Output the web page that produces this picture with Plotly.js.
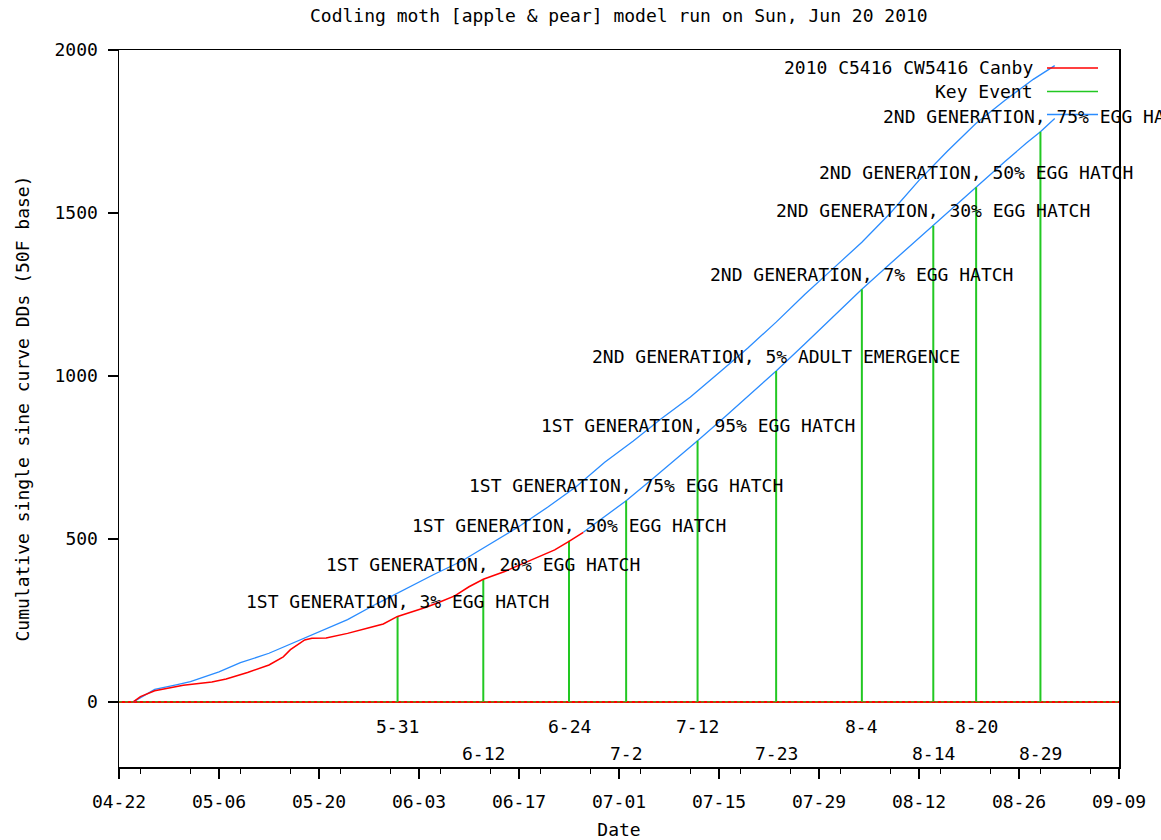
<!DOCTYPE html>
<html>
<head>
<meta charset="utf-8">
<script src="https://cdn.plot.ly/plotly-3.0.1.min.js"></script>
<style>html,body{margin:0;padding:0;background:#fff;}#chart{width:1161px;height:840px;}</style>
</head>
<body>
<div id="chart"></div>
<script>
// ---- data ----
var observedDates = ['2010-04-24','2010-04-25','2010-04-27','2010-04-30','2010-05-01','2010-05-05','2010-05-07','2010-05-10','2010-05-13','2010-05-15','2010-05-16','2010-05-18','2010-05-19','2010-05-21','2010-05-24','2010-05-27','2010-05-29','2010-05-31','2010-06-02','2010-06-04','2010-06-06','2010-06-08','2010-06-10','2010-06-12','2010-06-15','2010-06-18','2010-06-20','2010-06-22','2010-06-24','2010-06-26'];
var observedDDs = [0,16,34,45,51,61,70,90,113,138,160,190,195,196,210,227,239,262,276,290,307,325,353,376,400,429,448,466,492,520];

var forecastDates = ['2010-06-26','2010-06-29','2010-07-02','2010-07-06','2010-07-09','2010-07-12','2010-07-16','2010-07-20','2010-07-23','2010-07-27','2010-07-31','2010-08-04','2010-08-08','2010-08-11','2010-08-14','2010-08-17','2010-08-20','2010-08-24','2010-08-27','2010-08-29','2010-08-31'];
var forecastDDs = [520,568,617,690,745,801,878,955,1015,1098,1183,1266,1345,1404,1461,1520,1579,1657,1714,1749,1790];

var normalDates = ['2010-04-24','2010-04-27','2010-04-30','2010-05-02','2010-05-06','2010-05-09','2010-05-13','2010-05-17','2010-05-20','2010-05-24','2010-05-28','2010-06-01','2010-06-05','2010-06-09','2010-06-13','2010-06-17','2010-06-21','2010-06-25','2010-06-29','2010-07-03','2010-07-07','2010-07-11','2010-07-15','2010-07-19','2010-07-23','2010-07-27','2010-07-31','2010-08-04','2010-08-08','2010-08-12','2010-08-16','2010-08-20','2010-08-24','2010-08-28','2010-08-31'];
var normalDDs = [0,38,52,62,92,120,149,186,214,252,300,345,390,432,485,538,597,660,735,800,870,935,1010,1085,1165,1250,1330,1410,1500,1600,1690,1775,1845,1910,1952];

var eventDates = ['2010-05-31','2010-06-12','2010-06-24','2010-07-02','2010-07-12','2010-07-23','2010-08-04','2010-08-14','2010-08-20','2010-08-29'];
var eventDDs = [262,376,494,617,801,1015,1266,1461,1579,1749];
var eventNames = ['1ST GENERATION, 3% EGG HATCH','1ST GENERATION, 20% EGG HATCH','1ST GENERATION, 50% EGG HATCH','1ST GENERATION, 75% EGG HATCH','1ST GENERATION, 95% EGG HATCH','2ND GENERATION, 5% ADULT EMERGENCE','2ND GENERATION, 7% EGG HATCH','2ND GENERATION, 30% EGG HATCH','2ND GENERATION, 50% EGG HATCH','2ND GENERATION, 75% EGG HATCH'];
var eventDateText = ['5-31','6-12','6-24','7-2','7-12','7-23','8-4','8-14','8-20','8-29'];

var xRange = ['2010-04-22','2010-09-09'];
var yTicks = [0,500,1000,1500,2000];
var legendNames = ['2010 C5416 CW5416 Canby','Key Event'];
var titleText = 'Codling moth [apple &amp; pear] model run on Sun, Jun 20 2010';

// ---- styling ----
var FONT = 'DejaVu Sans Mono, monospace';
var RED = '#ff0000', GREEN = '#22c822', BLUE = '#2a8cff';
var DAY = 86400000;

var impX = [], impY = [];
for (var i = 0; i < eventDates.length; i++) {
  impX.push(eventDates[i], eventDates[i], null);
  impY.push(0, eventDDs[i], null);
}

var traces = [
  {x: xRange, y: [0, 0], mode: 'lines', line: {color: GREEN, width: 1, dash: 'dot'}, hoverinfo: 'skip', showlegend: false},
  {x: normalDates, y: normalDDs, mode: 'lines', line: {color: BLUE, width: 1.3}, showlegend: false},
  {x: forecastDates, y: forecastDDs, mode: 'lines', line: {color: BLUE, width: 1.3}, showlegend: false},
  {x: impX, y: impY, mode: 'lines', line: {color: GREEN, width: 2}, showlegend: false, connectgaps: false},
  {x: observedDates, y: observedDDs, mode: 'lines', line: {color: RED, width: 1.5}, showlegend: false}
];

var annotations = [];
for (var j = 0; j < eventDates.length; j++) {
  annotations.push({x: eventDates[j], y: eventDDs[j], xref: 'x', yref: 'y', text: eventNames[j], showarrow: false,
    yshift: 15, xanchor: 'center', yanchor: 'middle', font: {family: FONT, size: 18, color: '#000'}});
  annotations.push({x: eventDates[j], y: (j % 2 === 0) ? -77 : -160, xref: 'x', yref: 'y', text: eventDateText[j], showarrow: false,
    xanchor: 'center', yanchor: 'middle', font: {family: FONT, size: 18, color: '#000'}});
}
// manual gnuplot-style legend (text right, sample on the right)
var legY = [0.975, 0.942];
for (var k = 0; k < legendNames.length; k++) {
  annotations.push({xref: 'paper', yref: 'paper', x: 0.916, y: legY[k], text: legendNames[k], showarrow: false,
    xanchor: 'right', yanchor: 'middle', font: {family: FONT, size: 18, color: '#000'}});
}
var shapes = [
  {type: 'line', xref: 'paper', yref: 'paper', x0: 0.928, x1: 0.979, y0: 0.975, y1: 0.975, line: {color: RED, width: 1.5}},
  {type: 'line', xref: 'paper', yref: 'paper', x0: 0.928, x1: 0.979, y0: 0.942, y1: 0.942, line: {color: GREEN, width: 1.5}},
  {type: 'line', xref: 'paper', yref: 'paper', x0: 0.928, x1: 0.979, y0: 0.910, y1: 0.910, line: {color: BLUE, width: 1.5}}
];

var layout = {
  width: 1161, height: 840,
  paper_bgcolor: '#fff', plot_bgcolor: '#fff',
  margin: {l: 119, r: 42, t: 50, b: 73},
  showlegend: false,
  hovermode: false,
  title: {text: titleText, font: {family: FONT, size: 18, color: '#000'}, x: 0.533, xanchor: 'center', y: 0.981, yanchor: 'middle'},
  xaxis: {
    type: 'date', range: xRange, tick0: xRange[0], dtick: 14 * DAY, tickformat: '%m-%d',
    ticks: 'outside', ticklen: 10, tickcolor: '#000', tickwidth: 1.5,
    minor: {dtick: 7 * DAY, ticks: 'outside', ticklen: 5, tickcolor: '#000', tickwidth: 1.5, showgrid: false},
    showgrid: false, zeroline: false, showline: true, linecolor: '#000', linewidth: 1.5, mirror: true,
    ticklabelstandoff: 8,
    tickfont: {family: FONT, size: 18, color: '#000'},
    title: {text: 'Date', font: {family: FONT, size: 18, color: '#000'}, standoff: 12}
  },
  yaxis: {
    range: [-200, 2000], tickvals: yTicks, ticktext: yTicks.map(String),
    ticks: 'outside', ticklen: 10, tickcolor: '#000', tickwidth: 1.5,
    showgrid: false, zeroline: true, zerolinecolor: RED, zerolinewidth: 2,
    showline: true, linecolor: '#000', linewidth: 1.5, mirror: true,
    ticklabelstandoff: 6,
    tickfont: {family: FONT, size: 18, color: '#000'},
    title: {text: 'Cumulative single sine curve DDs (50F base)', font: {family: FONT, size: 18, color: '#000'}, standoff: 20}
  },
  annotations: annotations,
  shapes: shapes
};

Plotly.newPlot('chart', traces, layout, {displayModeBar: false, staticPlot: true});
</script>
</body>
</html>
